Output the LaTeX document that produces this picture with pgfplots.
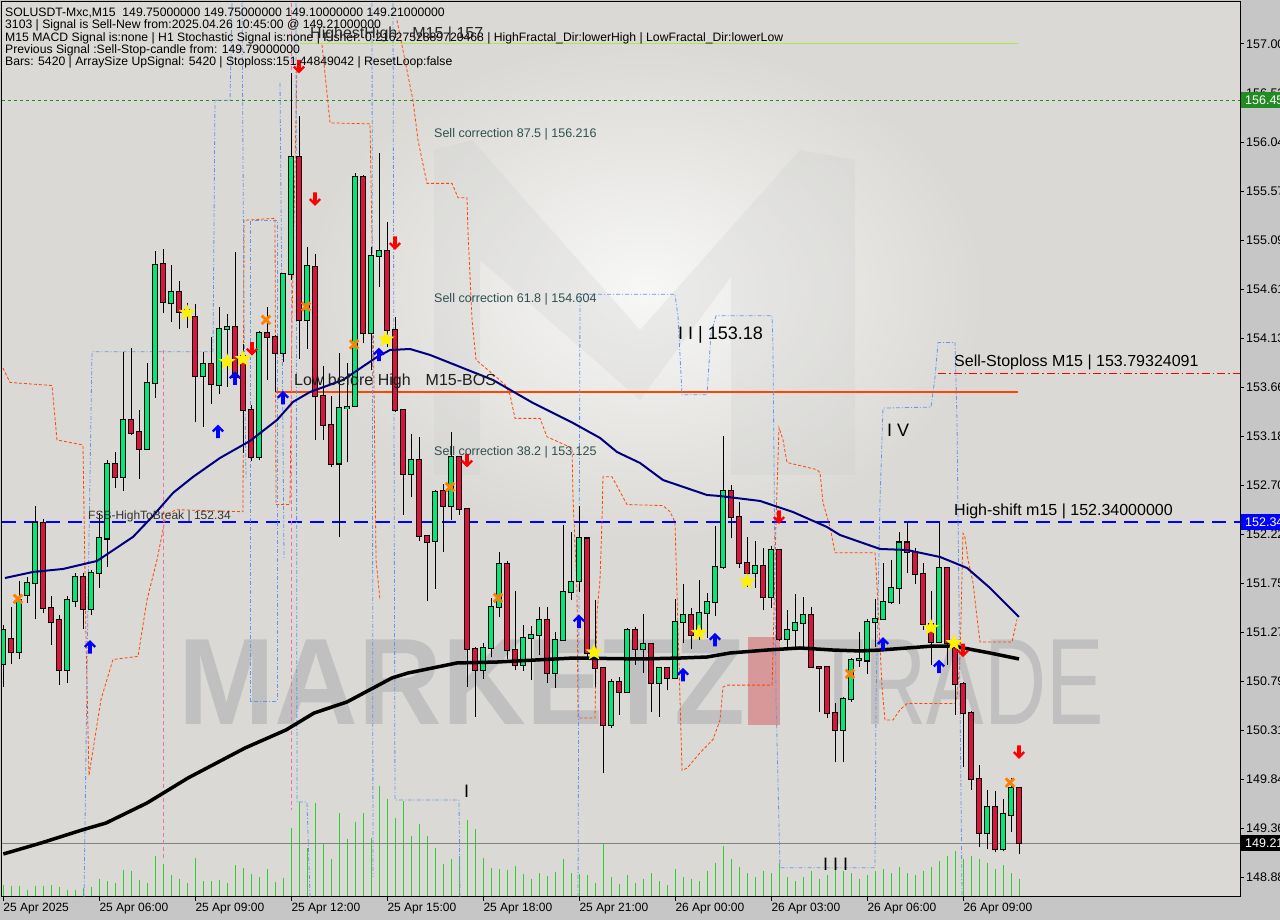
\documentclass[border=0pt]{standalone}
\usepackage{pgfplots}
\pgfplotsset{compat=1.18}
\usepackage{pgfplotstable}
\usepackage{graphicx}
\usepackage{fontspec}
\setmainfont{Liberation Sans}

\definecolor{outerbg}{RGB}{198,198,198}
\definecolor{plotbg}{RGB}{218,217,213}
\definecolor{cgreen}{RGB}{0,232,118}
\definecolor{cred}{RGB}{220,20,60}
\definecolor{maNavy}{RGB}{0,0,128}
\definecolor{orangeR}{RGB}{255,69,0}
\definecolor{cfblue}{RGB}{100,149,237}
\definecolor{pinkd}{RGB}{240,110,170}
\definecolor{volgreen}{RGB}{50,205,50}
\definecolor{slate}{RGB}{47,79,79}
\definecolor{lgreen}{RGB}{173,230,80}
\definecolor{dgreen}{RGB}{34,139,34}
\definecolor{wmgray}{RGB}{192,192,192}
\definecolor{wmred}{RGB}{214,152,152}
\definecolor{pureblue}{RGB}{0,0,255}

\pgfdeclareplotmark{mtup}{%
  \pgfpathmoveto{\pgfqpoint{0pt}{7pt}}%
  \pgfpathlineto{\pgfqpoint{6pt}{1pt}}%
  \pgfpathlineto{\pgfqpoint{4.4pt}{-0.6pt}}%
  \pgfpathlineto{\pgfqpoint{1.8pt}{2pt}}%
  \pgfpathlineto{\pgfqpoint{1.8pt}{-6.5pt}}%
  \pgfpathlineto{\pgfqpoint{-1.8pt}{-6.5pt}}%
  \pgfpathlineto{\pgfqpoint{-1.8pt}{2pt}}%
  \pgfpathlineto{\pgfqpoint{-4.4pt}{-0.6pt}}%
  \pgfpathlineto{\pgfqpoint{-6pt}{1pt}}%
  \pgfpathclose\pgfusepathqfill}
\pgfdeclareplotmark{mtdown}{%
  \pgfpathmoveto{\pgfqpoint{0pt}{-7pt}}%
  \pgfpathlineto{\pgfqpoint{6pt}{-1pt}}%
  \pgfpathlineto{\pgfqpoint{4.4pt}{0.6pt}}%
  \pgfpathlineto{\pgfqpoint{1.8pt}{-2pt}}%
  \pgfpathlineto{\pgfqpoint{1.8pt}{6.5pt}}%
  \pgfpathlineto{\pgfqpoint{-1.8pt}{6.5pt}}%
  \pgfpathlineto{\pgfqpoint{-1.8pt}{-2pt}}%
  \pgfpathlineto{\pgfqpoint{-4.4pt}{0.6pt}}%
  \pgfpathlineto{\pgfqpoint{-6pt}{-1pt}}%
  \pgfpathclose\pgfusepathqfill}
\pgfdeclareplotmark{fstar}{%
  \pgfpathmoveto{\pgfqpoint{0pt}{9pt}}%
  \pgfpathlineto{\pgfqpoint{-2.18pt}{3.0pt}}%
  \pgfpathlineto{\pgfqpoint{-8.56pt}{2.78pt}}%
  \pgfpathlineto{\pgfqpoint{-3.53pt}{-1.15pt}}%
  \pgfpathlineto{\pgfqpoint{-5.29pt}{-7.28pt}}%
  \pgfpathlineto{\pgfqpoint{0pt}{-3.71pt}}%
  \pgfpathlineto{\pgfqpoint{5.29pt}{-7.28pt}}%
  \pgfpathlineto{\pgfqpoint{3.53pt}{-1.15pt}}%
  \pgfpathlineto{\pgfqpoint{8.56pt}{2.78pt}}%
  \pgfpathlineto{\pgfqpoint{2.18pt}{3.0pt}}%
  \pgfpathclose\pgfusepathqfill}

\pgfplotstableread{
i o h l c
0 150.96 151.34 150.73 151.29
1 151.20 151.51 150.96 151.07
2 151.07 151.76 151.00 151.58
3 151.63 151.80 151.55 151.75
4 151.75 152.50 151.39 152.33
5 152.33 152.37 151.45 151.50
6 151.50 151.62 151.14 151.37
7 151.38 151.43 150.75 150.90
8 150.90 151.62 150.77 151.58
9 151.57 151.84 151.51 151.80
10 151.80 151.84 151.30 151.49
11 151.49 151.87 151.43 151.84
12 151.84 152.43 151.70 152.18
13 152.18 152.94 151.90 152.91
14 152.91 153.02 152.67 152.78
15 152.78 154.00 152.64 153.33
16 153.33 154.04 153.19 153.21
17 153.22 153.43 152.76 153.05
18 153.05 153.89 153.05 153.70
19 153.70 154.98 153.55 154.85
20 154.85 155.00 154.38 154.48
21 154.48 154.84 154.29 154.58
22 154.58 154.69 154.22 154.39
23 154.41 154.47 154.23 154.37
24 154.34 154.46 153.31 153.76
25 153.76 154.00 153.27 153.88
26 153.88 154.14 153.49 153.68
27 153.68 154.44 153.59 154.22
28 154.22 154.37 153.66 154.24
29 154.24 154.97 153.72 153.75
30 153.96 154.07 153.01 153.43
31 153.43 153.48 152.93 152.97
32 152.97 154.20 152.94 154.18
33 154.18 154.44 153.72 154.14
34 154.14 154.16 153.61 153.99
35 153.99 154.77 153.90 154.76
36 154.76 156.72 154.70 155.90
37 155.90 156.30 153.93 154.31
38 154.31 155.02 154.03 154.83
39 154.83 154.95 153.14 153.57
40 153.57 153.86 153.14 153.29
41 153.29 153.57 152.88 152.91
42 152.91 153.99 152.19 153.45
43 153.45 153.89 152.92 153.46
44 153.47 155.74 153.47 155.70
45 155.70 155.72 154.08 154.18
46 154.18 155.02 153.82 154.93
47 154.93 155.94 154.63 154.98
48 154.98 155.26 154.05 154.21
49 154.21 154.34 153.41 153.43
50 153.43 153.43 152.41 152.81
51 152.81 153.20 152.58 152.94
52 152.94 153.17 152.15 152.20
53 152.20 152.20 151.57 152.15
54 152.15 152.65 151.69 152.63
55 152.64 152.71 152.05 152.50
56 152.50 153.22 152.36 152.97
57 152.97 152.98 152.41 152.47
58 152.47 152.47 150.73 151.10
59 151.10 151.12 150.44 150.90
60 150.90 151.16 150.81 151.11
61 151.11 151.60 151.02 151.51
62 151.51 152.05 151.41 151.93
63 151.93 151.96 151.00 151.09
64 151.09 151.67 150.90 150.95
65 150.95 151.34 150.89 151.21
66 151.21 151.33 150.80 151.24
67 151.24 151.51 151.04 151.39
68 151.39 151.51 150.77 150.87
69 150.87 151.27 150.72 151.19
70 151.19 152.31 151.19 151.66
71 151.66 152.24 151.58 151.76
72 151.76 152.50 151.66 152.18
73 152.18 152.18 151.01 151.06
74 151.00 151.58 150.73 150.92
75 150.92 150.92 149.89 150.36
76 150.36 150.81 150.33 150.78
77 150.78 150.83 150.46 150.68
78 150.68 151.31 150.67 151.29
79 151.29 151.32 150.95 151.10
80 151.10 151.44 150.87 151.15
81 151.15 151.15 150.49 150.77
82 150.77 150.93 150.44 150.92
83 150.92 150.93 150.70 150.82
84 150.82 151.59 150.82 151.37
85 151.37 151.74 151.16 151.43
86 151.43 151.50 151.10 151.24
87 151.24 151.77 151.19 151.45
88 151.45 151.65 151.21 151.56
89 151.56 152.30 151.42 151.90
90 151.90 153.18 151.88 152.64
91 152.64 152.70 152.18 152.39
92 152.39 152.53 151.89 151.94
93 151.94 152.19 151.71 151.84
94 151.84 152.15 151.70 151.91
95 151.91 152.09 151.48 151.61
96 151.61 152.11 151.50 152.07
97 152.07 152.08 151.18 151.20
98 151.20 151.48 151.10 151.29
99 151.29 151.64 151.09 151.36
100 151.36 151.61 151.09 151.43
101 151.43 151.51 150.92 150.93
102 150.93 150.93 150.49 150.92
103 150.93 150.93 150.43 150.48
104 150.48 150.58 150.00 150.31
105 150.31 150.63 150.00 150.62
106 150.62 151.01 150.59 151.00
107 151.00 151.27 150.93 151.01
108 150.99 151.39 150.86 151.37
109 151.37 151.59 151.12 151.40
110 151.40 151.94 151.39 151.56
111 151.56 151.97 151.54 151.70
112 151.70 152.24 151.54 152.14
113 152.14 152.34 151.84 152.05
114 152.05 152.09 151.74 151.83
115 151.83 151.94 151.29 151.35
116 151.35 151.67 150.95 151.17
117 151.17 152.33 151.17 151.89
118 151.89 151.89 150.95 151.16
119 151.16 151.16 150.46 150.76
120 150.76 150.78 149.95 150.48
121 150.48 150.50 149.73 149.84
122 149.84 149.97 149.17 149.31
123 149.31 149.73 149.15 149.56
124 149.56 149.72 149.12 149.15
125 149.15 149.64 149.13 149.49
126 149.49 149.84 149.32 149.75
127 149.75 149.75 149.10 149.21
}\candles

\pgfplotstableread{
i v
0 12
1 11
2 11
3 7
4 11
5 11
6 12
7 10
8 7
9 7
10 9
11 10
12 18
13 16
14 14
15 27
16 26
17 17
18 14
19 41
20 33
21 22
22 18
23 14
24 39
25 16
26 16
27 17
28 14
29 32
30 29
31 23
32 20
33 28
34 15
35 19
36 69
37 95
38 49
39 94
40 53
41 38
42 84
43 58
44 75
45 84
46 59
47 111
48 98
49 79
50 96
51 61
52 73
53 61
54 49
55 33
56 38
57 41
58 77
59 68
60 39
61 29
62 28
63 27
64 31
65 23
66 18
67 24
68 21
69 25
70 38
71 24
72 23
73 22
74 14
75 54
76 20
77 13
78 22
79 14
80 18
81 24
82 16
83 12
84 28
85 20
86 18
87 16
88 26
89 34
90 51
91 38
92 30
93 24
94 20
95 26
96 24
97 34
98 20
99 16
100 20
101 26
102 18
103 22
104 30
105 26
106 24
107 18
108 22
109 26
110 28
111 24
112 30
113 24
114 22
115 26
116 30
117 36
118 41
119 46
120 38
121 41
122 38
123 34
124 28
125 32
126 24
127 18
}\volumes

\begin{document}
\begin{tikzpicture}
\useasboundingbox (0pt,0pt) rectangle (1280pt,920pt);
\begin{scope}[x=1pt,y=1pt]
\fill[outerbg] (0,0) rectangle (1280,920);
\fill[plotbg] (2,23) rectangle (1240,918);
% watermark logo glow and M
\shade[inner color=white!80!plotbg, outer color=plotbg] (645,630) ellipse [x radius=340, y radius=250];
\fill[black!20, opacity=0.25] (434,445) -- (434,770) -- (472,780) -- (640,590) -- (800,770) -- (855,760) -- (855,445) -- (731,445) -- (731,643) -- (640,520) -- (480,660) -- (480,445) -- cycle;
% watermark text
\node[anchor=base west, inner sep=0pt, text=wmgray, font=\fontsize{123}{123}\selectfont\bfseries] at (178,195) {\scalebox{0.943}[1]{MARKETZ}};
\fill[wmred] (748,195) rectangle (780,283);
\node[anchor=base west, inner sep=0pt, text=wmgray, font=\fontsize{123}{123}\selectfont] at (812,195) {\scalebox{0.70}[1]{TRADE}};
\end{scope}

% volume axis
\begin{axis}[at={(2pt,23pt)}, anchor=south west, width=1238pt, height=895pt, scale only axis,
  xmin=-0.1625, xmax=154.5875, ymin=0, ymax=895, hide axis]
\addplot[ycomb, volgreen, line width=1pt, mark=none] table[x=i, y=v] {\volumes};
\end{axis}

% main price axis
\begin{axis}[at={(2pt,23pt)}, anchor=south west, width=1238pt, height=895pt, scale only axis,
  xmin=-0.1625, xmax=154.5875, ymin=148.685, ymax=157.408,
  axis line style={black, line width=1pt},
  xtick={0,12,24,36,48,60,72,84,96,108,120},
  xticklabels={25 Apr 2025,25 Apr 06:00,25 Apr 09:00,25 Apr 12:00,25 Apr 15:00,25 Apr 18:00,25 Apr 21:00,26 Apr 00:00,26 Apr 03:00,26 Apr 06:00,26 Apr 09:00},
  xtick pos=left, ytick pos=right, yticklabel pos=right,
  tick align=outside, major tick length=4pt, tick style={black, line width=0.8pt},
  xticklabel style={anchor=north west, inner sep=0pt, xshift=0pt, yshift=-2pt, font=\fontsize{12}{12}\selectfont},
  ytick={157.000,156.521,156.044,155.566,155.089,154.611,154.133,153.656,153.178,152.701,152.223,151.745,151.268,150.790,150.313,149.835,149.358,148.880},
  yticklabels={157.00,156.52,156.04,155.57,155.09,154.61,154.13,153.66,153.18,152.70,152.22,151.75,151.27,150.79,150.31,149.84,149.36,148.88},
  yticklabel style={anchor=west, inner sep=0pt, xshift=2pt, font=\fontsize{12.5}{12.5}\selectfont},
  clip=true]
% horizontal level lines
\addplot[dgreen, line width=0.8pt, dash pattern=on 3pt off 3pt] coordinates {(-0.1625,156.453) (154.5875,156.453)};
\addplot[lgreen, line width=1pt] coordinates {(37.09,157.00) (126.84,157.00)};
\addplot[pureblue, line width=1.3pt, dash pattern=on 14pt off 8pt] coordinates {(-0.1625,152.34) (154.5875,152.34)};
\addplot[black!50, line width=0.8pt] coordinates {(-0.1625,149.21) (154.5875,149.21)};
\addplot[red, line width=1pt, dash pattern=on 8pt off 3pt on 1.5pt off 3pt] coordinates {(116.85,153.792) (154.5875,153.792)};
\addplot[orangeR, line width=1.2pt] coordinates {(34.09,153.607) (126.84,153.607)};
% indicator channels (orange dashed)
\addplot[orangeR, line width=0.8pt, dash pattern=on 3pt off 2pt] coordinates {
(-0.04,153.84) (0.84,153.70) (6.09,153.67) (6.71,153.14) (9.96,153.09) (10.34,151.19) (10.71,149.87) (12.21,150.61) (13.71,151.00) (16.84,151.03) (17.96,151.58) (19.21,151.97) (20.34,152.41) (21.59,152.46) (29.96,152.44) (30.09,155.28) (33.96,155.30) (34.09,152.51) (35.84,152.51) (36.09,154.31) (36.71,156.78)};
\addplot[orangeR, line width=0.8pt, dash pattern=on 3pt off 2pt] coordinates {
(39.84,156.99) (40.84,156.23) (45.84,156.22) (46.21,154.50) (46.59,151.97) (47.09,151.58)};
\addplot[orangeR, line width=0.8pt, dash pattern=on 3pt off 2pt] coordinates {
(49.21,157.23) (51.21,156.45) (51.84,156.06) (52.96,155.64) (56.09,155.64) (56.84,155.50) (57.96,155.50) (58.09,155.16) (58.59,154.31) (59.09,153.92) (62.71,153.68) (63.34,153.58) (63.96,153.35) (67.09,153.35) (67.96,153.17) (71.09,153.06) (71.21,152.58) (71.71,151.68) (71.84,150.43) (73.96,150.43) (74.21,151.45) (74.59,151.78) (74.84,152.36) (74.96,152.78) (76.09,152.78) (77.96,152.51) (82.46,152.50) (83.34,152.44) (83.96,152.34) (84.84,149.92) (85.46,149.94) (87.09,150.09) (88.71,150.22) (89.59,150.41) (89.96,150.73) (90.46,150.75) (96.09,150.75) (96.21,151.06) (96.59,152.36) (96.96,153.26) (97.46,153.14) (97.96,152.92) (101.71,152.85) (102.09,152.82) (102.46,152.53) (103.34,152.29) (103.96,152.04) (108.96,152.04) (109.09,151.90) (109.84,150.73) (110.21,150.41) (111.21,150.41) (112.09,150.51) (112.96,150.57) (118.96,150.57) (119.21,150.63) (119.59,151.00) (119.96,152.23) (120.21,152.19) (120.59,151.97) (121.21,151.75) (121.71,151.41) (122.09,151.17) (126.09,151.17) (126.71,151.39)};
% indicator channels (blue dash-dot)
\addplot[cfblue, line width=0.8pt, dash pattern=on 4pt off 2pt on 1pt off 2pt] coordinates {
(10.09,148.685) (10.59,151.58) (11.09,154.00) (26.21,154.00) (26.46,156.45) (28.34,156.45) (28.59,157.40)};
\addplot[cfblue, line width=0.8pt, dash pattern=on 4pt off 2pt on 1pt off 2pt] coordinates {
(30.84,150.59) (30.84,155.28) (34.21,155.28) (34.21,150.59) (30.84,150.59)};
\addplot[cfblue, line width=0.8pt, dash pattern=on 4pt off 2pt on 1pt off 2pt] coordinates {
(29.84,157.40) (30.09,154.31) (30.34,152.75)};
\addplot[cfblue, line width=0.8pt, dash pattern=on 4pt off 2pt on 1pt off 2pt] coordinates {
(34.59,156.62) (34.84,154.31) (35.09,151.97)};
\addplot[cfblue, line width=0.8pt, dash pattern=on 4pt off 2pt on 1pt off 2pt] coordinates {
(36.59,157.40) (36.71,149.61) (37.96,149.61) (38.34,148.685)};
\addplot[cfblue, line width=0.8pt, dash pattern=on 4pt off 2pt on 1pt off 2pt] coordinates {
(46.09,157.40) (46.21,148.88)};
\addplot[cfblue, line width=0.8pt, dash pattern=on 4pt off 2pt on 1pt off 2pt] coordinates {
(48.71,157.40) (48.96,149.63) (56.96,149.63) (57.09,148.685)};
\addplot[cfblue, line width=0.8pt, dash pattern=on 4pt off 2pt on 1pt off 2pt] coordinates {
(71.84,148.685) (71.96,151.58) (72.09,154.56) (83.96,154.56) (84.34,154.34) (84.84,153.58) (87.96,153.58) (88.46,154.18) (89.09,154.35) (96.09,154.35) (96.21,154.04) (96.59,150.61) (97.09,148.97) (108.96,148.97) (109.09,150.61) (109.59,152.55) (109.96,153.45) (115.96,153.46) (116.46,153.75) (116.84,154.09) (118.96,154.09) (119.21,153.33) (119.59,150.61) (119.84,148.685)};
% pink dashed verticals
\addplot[pinkd, line width=0.8pt, dash pattern=on 4pt off 3pt] coordinates {(19.96,154.02) (19.96,149.06)};
\addplot[pinkd, line width=0.8pt, dash pattern=on 4pt off 3pt] coordinates {(35.96,157.40) (35.96,149.53)};
% candle wicks
\addplot[draw=none, mark=none, error bars/.cd, y dir=plus, y explicit, error mark=none,
  error bar style={draw=black, line width=1pt}] table[x=i, y=l, y error expr=\thisrow{h}-\thisrow{l}] {\candles};
% candle body outlines
\addplot[draw=none, mark=none, error bars/.cd, y dir=both, y explicit, error mark=none,
  error bar style={draw=black, line width=6pt}] table[x=i, y expr=(\thisrow{o}+\thisrow{c})/2, y error expr=abs(\thisrow{c}-\thisrow{o})/2+0.0098] {\candles};
% bullish bodies
\addplot[draw=none, mark=none, restrict expr to domain={\thisrow{c}-\thisrow{o}}{0:10}, error bars/.cd, y dir=both, y explicit, error mark=none,
  error bar style={draw=cgreen, line width=4pt}] table[x=i, y expr=(\thisrow{o}+\thisrow{c})/2, y error expr=abs(\thisrow{c}-\thisrow{o})/2] {\candles};
% bearish bodies
\addplot[draw=none, mark=none, restrict expr to domain={\thisrow{c}-\thisrow{o}}{-10:0}, error bars/.cd, y dir=both, y explicit, error mark=none,
  error bar style={draw=cred, line width=4pt}] table[x=i, y expr=(\thisrow{o}+\thisrow{c})/2, y error expr=abs(\thisrow{c}-\thisrow{o})/2] {\candles};
% moving averages
\addplot[maNavy, line width=2pt] coordinates {
(0.21,151.794) (3.71,151.853) (7.46,151.882) (11.71,151.960) (16.21,152.194) (18.59,152.389) (21.21,152.623) (23.71,152.779) (27.09,152.964) (30.84,153.130) (34.21,153.334) (36.21,153.510) (38.34,153.607) (42.46,153.724) (46.71,153.948) (48.34,154.016) (50.84,154.026) (53.34,153.968) (61.21,153.724) (66.21,153.500) (71.21,153.305) (74.59,153.159) (76.71,153.022) (79.59,152.915) (82.46,152.749) (87.96,152.603) (89.59,152.593) (94.59,152.545) (98.71,152.437) (102.96,152.291) (104.59,152.213) (109.59,152.077) (112.96,152.067) (117.09,151.999) (120.46,151.892) (123.34,151.697) (126.96,151.414)};
\addplot[black, line width=3.5pt] coordinates {
(0,149.104) (4.71,149.211) (9.84,149.338) (12.84,149.406) (17.96,149.601) (23.09,149.845) (30.21,150.137) (35.34,150.313) (38.84,150.478) (42.96,150.586) (48.59,150.820) (50.59,150.868) (56.71,150.966) (61.71,150.975) (71.21,151.014) (79.59,151.005) (84.59,151.014) (87.96,151.024) (90.84,151.063) (95.46,151.092) (99.59,151.112) (103.71,151.092) (107.09,151.083) (109.59,151.092) (116.21,151.131) (118.71,151.131) (123.34,151.063) (126.96,151.005)};
% signal markers
\addplot[only marks, mark=mtup, color=pureblue] coordinates {
(10.84,151.12) (26.84,153.22) (28.96,153.74) (34.96,153.55) (46.96,153.97) (71.96,151.37) (84.96,150.85) (88.96,151.19) (109.96,151.15) (116.96,150.93)};
\addplot[only marks, mark=mtdown, color=red] coordinates {
(36.96,156.78) (38.96,155.49) (31.09,154.03) (48.96,155.06) (57.96,152.94) (96.96,152.39) (119.96,151.09) (126.96,150.10)};
\addplot[only marks, mark=fstar, color=yellow] coordinates {
(22.96,154.38) (27.96,153.90) (29.96,153.93) (47.84,154.12) (73.84,151.07) (86.96,151.26) (92.96,151.76) (115.96,151.31) (118.84,151.16)};
\addplot[only marks, mark=x, mark size=6pt, color=orange, line width=2.8pt] coordinates {
(1.84,151.59) (32.84,154.31) (37.84,154.44) (43.84,154.07) (55.84,152.68) (61.84,151.60) (105.84,150.86) (125.84,149.80)};
\end{axis}

\begin{scope}[x=1pt,y=1pt]
% right-side price tags
\fill[dgreen] (1241,812) rectangle (1280,828);
\node[anchor=west, inner sep=0pt, text=white, font=\fontsize{12.5}{12.5}\selectfont] at (1245,820) {156.45};
\fill[pureblue] (1241,390) rectangle (1280,406);
\node[anchor=west, inner sep=0pt, text=white, font=\fontsize{12.5}{12.5}\selectfont] at (1245,398) {152.34};
\fill[black] (1241,69) rectangle (1280,85);
\node[anchor=west, inner sep=0pt, text=white, font=\fontsize{12.5}{12.5}\selectfont] at (1245,77) {149.21};

% info text top-left
\begin{scope}[every node/.style={anchor=base west, inner sep=0pt, font=\fontsize{12.2}{12.2}\selectfont}]
\node at (5,903.3) {SOLUSDT-Mxc,M15\ \ 149.75000000 149.75000000 149.10000000 149.21000000};
\node at (5,891) {3103 | Signal is Sell-New from:2025.04.26 10:45:00 @ 149.21000000};
\node at (5,878.3) {M15 MACD Signal is:none | H1 Stochastic Signal is:none | Fisher: 0.2162752889720468 | HighFractal\_Dir:lowerHigh | LowFractal\_Dir:lowerLow};
\node at (5,866.3) {Previous Signal :Sell-Stop-candle from: 149.79000000};
\node at (5,854) {Bars: 5420 | ArraySize UpSignal: 5420 | Stoploss:151.44849042 | ResetLoop:false};
\end{scope}

% chart annotations
\node[anchor=base west, inner sep=0pt, text=black!85, font=\fontsize{16}{16}\selectfont] at (310,881.3) {HighestHigh\hspace{15pt}M15 | 157};
\node[anchor=base west, inner sep=0pt, text=slate, font=\fontsize{12.5}{12.5}\selectfont] at (434,782.5) {Sell correction 87.5 | 156.216};
\node[anchor=base west, inner sep=0pt, text=slate, font=\fontsize{12.5}{12.5}\selectfont] at (434,617.5) {Sell correction 61.8 | 154.604};
\node[anchor=base west, inner sep=0pt, text=slate, font=\fontsize{12.5}{12.5}\selectfont] at (434,464.5) {Sell correction 38.2 | 153.125};
\node[anchor=base west, inner sep=0pt, text=black!88, font=\fontsize{16}{16}\selectfont] at (294,534.3) {Low before High\hspace{15pt}M15-BOS};
\node[anchor=base west, inner sep=0pt, text=black!80, font=\fontsize{12}{12}\selectfont] at (88,400.7) {FSB-HighToBreak | 152.34};
\node[anchor=base west, inner sep=0pt, text=black, font=\fontsize{18}{18}\selectfont] at (678,580.5) {I I | 153.18};
\node[anchor=base west, inner sep=0pt, text=black, font=\fontsize{18}{18}\selectfont] at (887,483.5) {I V};
\node[anchor=base west, inner sep=0pt, text=black, font=\fontsize{16}{16}\selectfont] at (954,553.3) {Sell-Stoploss M15 | 153.79324091};
\node[anchor=base west, inner sep=0pt, text=black, font=\fontsize{16}{16}\selectfont] at (954,404.3) {High-shift m15 | 152.34000000};
\node[anchor=base west, inner sep=0pt, text=black, font=\fontsize{18}{18}\selectfont] at (464,122.5) {I};
\node[anchor=base west, inner sep=0pt, text=black, font=\fontsize{18}{18}\selectfont] at (823,49.5) {I I I};
\end{scope}
\end{tikzpicture}
\end{document}
